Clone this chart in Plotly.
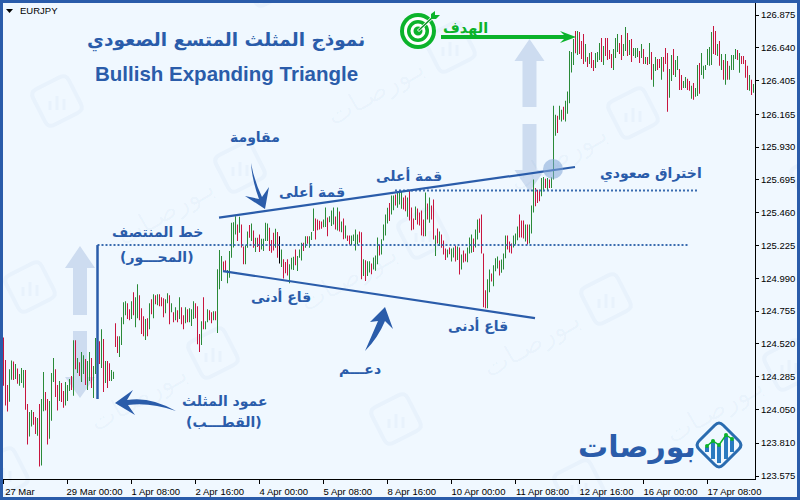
import math
import plotly.graph_objects as go

# EURJPY hourly bars, highest and lowest price of each hour
bar_high = [
    124.566,124.405,124.226,124.340,124.402,124.395,124.376,124.345,124.305,124.348,
    124.333,124.333,124.090,124.033,124.048,124.033,123.998,123.991,124.090,124.126,
    124.319,124.176,124.126,124.112,124.312,124.419,124.340,124.226,124.255,124.240,
    124.183,124.248,124.226,124.269,124.290,124.547,124.547,124.419,124.390,124.462,
    124.440,124.412,124.398,124.462,124.419,124.362,124.562,124.483,124.540,124.626,
    124.555,124.398,124.398,124.383,124.333,124.321,124.669,124.576,124.576,124.712,
    124.819,124.826,124.812,124.769,124.826,124.890,124.855,124.948,124.869,124.776,
    124.719,124.698,124.705,124.812,124.840,124.876,124.869,124.876,124.876,124.855,
    124.848,124.840,124.883,124.869,124.812,124.748,124.783,124.762,124.855,124.783,
    124.726,124.783,124.769,124.776,124.769,124.826,124.812,124.790,124.591,124.683,
    124.855,124.683,124.769,124.762,124.748,124.755,124.755,125.055,125.192,125.149,
    125.111,125.118,125.049,125.185,125.387,125.392,125.435,125.376,125.430,125.376,
    125.218,125.226,125.326,125.371,125.383,125.333,125.280,125.280,125.304,125.273,
    125.273,125.387,125.383,125.352,125.264,125.316,125.345,125.321,125.292,125.197,
    125.126,125.107,125.126,125.090,125.138,125.145,125.197,125.149,125.197,125.245,
    125.245,125.292,125.292,125.292,125.321,125.490,125.418,125.411,125.402,125.397,
    125.411,125.497,125.426,125.435,125.476,125.497,125.433,125.497,125.469,125.397,
    125.419,125.369,125.297,125.297,125.297,125.304,125.340,125.304,125.326,125.319,
    125.126,125.119,125.112,125.112,125.097,125.140,125.154,125.283,125.233,125.269,
    125.376,125.447,125.495,125.530,125.583,125.583,125.590,125.611,125.618,125.611,
    125.568,125.583,125.568,125.618,125.497,125.419,125.504,125.490,125.461,125.476,
    125.411,125.604,125.526,125.568,125.511,125.554,125.297,125.347,125.325,125.304,
    125.261,125.204,125.197,125.211,125.204,125.211,125.225,125.218,125.211,125.161,
    125.190,125.168,125.211,125.282,125.304,125.275,125.340,125.411,125.418,125.447,
    125.168,124.904,124.983,125.054,125.025,125.083,125.133,125.147,125.118,125.125,
    125.168,125.297,125.297,125.254,125.240,125.297,125.311,125.361,125.447,125.404,
    125.404,125.375,125.375,125.375,125.511,125.697,125.637,125.625,125.625,125.709,
    125.716,125.702,125.709,125.697,125.713,126.225,126.161,126.154,126.225,126.196,
    126.218,126.261,126.327,126.618,126.611,126.703,126.760,126.760,126.753,126.689,
    126.739,126.668,126.575,126.603,126.611,126.553,126.603,126.611,126.675,126.710,
    126.653,126.710,126.710,126.625,126.596,126.632,126.710,126.739,126.675,126.732,
    126.668,126.789,126.746,126.696,126.703,126.639,126.639,126.639,126.618,126.668,
    126.632,126.575,126.575,126.675,126.611,126.525,126.575,126.561,126.561,126.575,
    126.575,126.639,126.603,126.489,126.589,126.632,126.553,126.582,126.489,126.446,
    126.403,126.432,126.418,126.403,126.368,126.389,126.353,126.518,126.532,126.603,
    126.511,126.518,126.632,126.646,126.753,126.796,126.760,126.668,126.689,126.596,
    126.553,126.596,126.546,126.511,126.589,126.589,126.632,126.625,126.603,126.582,
    126.582,126.553,126.511,126.446,126.411,126.382,
]
bar_low = [
    124.221,124.079,124.036,124.107,124.264,124.262,124.269,124.236,124.221,124.240,
    124.207,124.050,123.800,123.857,123.929,123.941,123.876,123.864,123.643,123.650,
    124.038,124.043,123.800,123.841,123.971,124.248,124.140,124.043,124.112,124.105,
    124.064,124.079,124.112,124.183,124.190,124.150,124.340,124.312,124.290,124.248,
    124.305,124.226,124.190,124.255,124.205,124.133,124.305,124.221,124.376,124.348,
    124.176,124.240,124.205,124.255,124.255,124.269,124.498,124.455,124.426,124.512,
    124.662,124.726,124.698,124.690,124.698,124.726,124.640,124.705,124.690,124.591,
    124.576,124.548,124.576,124.626,124.733,124.705,124.805,124.798,124.790,124.790,
    124.712,124.740,124.812,124.662,124.748,124.676,124.690,124.676,124.698,124.662,
    124.626,124.669,124.676,124.676,124.648,124.698,124.705,124.519,124.462,124.512,
    124.626,124.626,124.676,124.690,124.669,124.690,124.690,124.598,124.911,124.971,
    125.040,125.042,124.954,124.995,125.138,125.211,125.304,125.257,125.316,125.211,
    125.090,125.090,125.209,125.280,125.257,125.209,125.178,125.214,125.178,125.197,
    125.185,125.257,125.257,125.185,125.173,125.190,125.209,125.138,125.097,125.071,
    124.988,125.026,125.011,124.954,125.054,125.049,125.083,125.042,125.138,125.118,
    125.185,125.209,125.237,125.209,125.264,125.328,125.268,125.335,125.340,125.345,
    125.356,125.357,125.292,125.392,125.364,125.376,125.340,125.333,125.326,125.319,
    125.269,125.276,125.257,125.233,125.226,125.257,125.190,125.233,125.247,124.983,
    125.007,124.971,125.007,125.031,125.019,125.054,125.045,125.090,125.154,125.161,
    125.261,125.297,125.383,125.400,125.447,125.478,125.511,125.495,125.519,125.488,
    125.483,125.471,125.430,125.404,125.335,125.340,125.407,125.376,125.369,125.297,
    125.292,125.292,125.411,125.388,125.411,125.268,125.149,125.240,125.221,125.209,
    125.161,125.121,125.140,125.163,125.111,125.140,125.111,125.121,125.018,125.054,
    125.104,125.111,125.106,125.168,125.173,125.178,125.211,125.268,125.316,125.168,
    124.783,124.776,124.776,124.890,124.968,124.933,125.040,125.061,125.011,125.030,
    125.054,125.133,125.197,125.175,125.168,125.211,125.232,125.263,125.282,125.282,
    125.275,125.254,125.232,125.240,125.311,125.461,125.506,125.530,125.542,125.578,
    125.614,125.637,125.621,125.637,125.637,125.697,126.011,126.030,126.125,126.113,
    126.125,126.113,126.168,126.244,126.463,126.518,126.601,126.589,126.596,126.561,
    126.525,126.541,126.503,126.525,126.496,126.475,126.496,126.539,126.553,126.539,
    126.518,126.582,126.553,126.561,126.496,126.482,126.568,126.611,126.596,126.553,
    126.582,126.618,126.582,126.589,126.539,126.582,126.568,126.575,126.532,126.568,
    126.525,126.525,126.518,126.525,126.411,126.361,126.475,126.482,126.496,126.411,
    126.468,126.525,126.182,126.282,126.403,126.446,126.432,126.482,126.339,126.339,
    126.353,126.353,126.339,126.332,126.275,126.268,126.289,126.296,126.311,126.446,
    126.418,126.482,126.518,126.511,126.518,126.596,126.589,126.582,126.511,126.482,
    126.411,126.375,126.411,126.411,126.482,126.482,126.561,126.553,126.461,126.525,
    126.525,126.425,126.339,126.332,126.303,126.318,
]
# G rising hour, R falling hour, K the doji-coloured bar
bar_dir = (
    "RRRGGRGRGG" "GRRGGRRGRG" "GRRGGGRRGR" "RGGGRGRGRG" "GRGGRGGGRG"
    "RGRRGGRRGG" "GGRRGRGGRR" "RGRGRGRGRR" "RGGRGRGRGR" "RGRGGGRRRG"
    "RGGRRGRGGG" "RRGGGGGRGR" "RGGRGRGRRG" "GGGRRRGRKG" "RRRGGGRGGG"
    "RGRGGGRRRR" "GGRGGGRGRG" "RGRRGGGGRR" "GRGGRGGGRG" "GGGRGGRGGG"
    "RRGRRRGRRR" "RGRGRRGRGR" "RRGRGGRGRG" "RRGGGRGGRR" "RRGGRGGGRG"
    "GGRRRGGGRR" "RGRGGGRRRG" "GRGRGGGRGG" "RGGGGGRGRR" "RGRGRRGGGR"
    "GRRRRGGGRR" "GGRGRGGGRG" "RGRGRGGRRG" "RRRGGRGGRR" "GGRRGRGGRG"
    "GGGGGRRGRG" "RGRGGGGRGR" "RRRGRG"
)
bar_index = list(range(len(bar_high)))

# Axis labelling
time_positions = [0, 32, 64, 96, 128, 160, 192, 224, 256, 288, 320, 352]
time_labels = ["27 Mar", "29 Mar 00:00", "1 Apr 08:00", "2 Apr 16:00", "4 Apr 00:00",
               "5 Apr 08:00", "8 Apr 16:00", "10 Apr 00:00", "11 Apr 08:00",
               "12 Apr 16:00", "16 Apr 00:00", "17 Apr 08:00"]
price_ticks = [126.875, 126.640, 126.405, 126.165, 125.930, 125.695, 125.460, 125.225,
               124.990, 124.755, 124.520, 124.285, 124.050, 123.810, 123.575]

# Pattern lines, in bar number and price
resistance_x, resistance_y = [107.75, 285.75], [125.425, 125.787]
support_x, support_y = [109.75, 265.75], [125.042, 124.705]
pole_x, pole_y = [47, 47], [125.228, 124.126]
midline_x, midline_y = [47, 342.25], [125.228, 125.228]
breakout_x, breakout_y = [195.75, 347.25], [125.618, 125.618]

BLUE = "#2a5caa"
GREEN = "#0bb32b"
BG = "#f0f8ff"
ARROW_PALE = "#cddcf0"
WATERMARK = "rgba(42,92,170,0.035)"
BAR_COLORS = {"G": "#2a8a38", "R": "#c8163f", "K": "#000000"}
AR_FONT = "DejaVu Sans"
TICK_FONT = "Liberation Sans"
W, H = 800, 500


def fx(px):
    return px / W


def fy(py):
    return 1 - py / H


def path(*parts):
    """Build an SVG path from pixel-space commands like ('M', x, y) for the paper layer."""
    out = []
    for part in parts:
        cmd, coords = part[0], part[1:]
        pairs = [f"{fx(coords[i]):.5f},{fy(coords[i + 1]):.5f}" for i in range(0, len(coords), 2)]
        out.append(cmd + " ".join(pairs))
    return " ".join(out)


def polygon(points):
    parts = [("M", *points[0])] + [("L", *p) for p in points[1:]]
    return path(*parts) + " Z"


def rounded_square(cx, cy, half, angle_deg, radius):
    """Square rotated about its centre, with corners softened by quadratic curves."""
    a = math.radians(angle_deg)
    corners = []
    for sx, sy in [(-1, -1), (1, -1), (1, 1), (-1, 1)]:
        x, y = sx * half, sy * half
        corners.append((cx + x * math.cos(a) - y * math.sin(a), cy + x * math.sin(a) + y * math.cos(a)))
    parts = []
    for i, c in enumerate(corners):
        prev, nxt = corners[i - 1], corners[(i + 1) % 4]
        side = 2 * half
        p1 = (c[0] + (prev[0] - c[0]) * radius / side, c[1] + (prev[1] - c[1]) * radius / side)
        p2 = (c[0] + (nxt[0] - c[0]) * radius / side, c[1] + (nxt[1] - c[1]) * radius / side)
        parts.append(("M" if i == 0 else "L", *p1))
        parts.append(("Q", *c, *p2))
    return path(*parts) + " Z"


shapes, notes = [], []


def add_path(d, fill=None, line=None, width=0, layer="above"):
    shapes.append(dict(type="path", path=d, xref="paper", yref="paper", layer=layer,
                       fillcolor=fill or "rgba(0,0,0,0)",
                       line=dict(color=line or "rgba(0,0,0,0)", width=width)))


def add_circle(cx, cy, r, fill, layer="above"):
    shapes.append(dict(type="circle", xref="paper", yref="paper", layer=layer,
                       x0=fx(cx - r), x1=fx(cx + r), y0=fy(cy + r), y1=fy(cy - r),
                       fillcolor=fill, line=dict(width=0)))


def add_text(px, py, text, size, color=BLUE, family=AR_FONT, weight="bold", angle=0, anchor="center"):
    notes.append(dict(x=fx(px), y=fy(py), xref="paper", yref="paper", text=text, showarrow=False,
                      xanchor=anchor, yanchor="middle", textangle=angle,
                      font=dict(family=family, size=size, color=color, weight=weight)))


# Repeating brand watermark across the chart
for m in range(-3, 5):
    for n in range(-3, 5):
        ix = 30 + m * 210 + n * 183
        iy = 287 - m * 120 + n * 66
        if -40 < ix < 880 and -40 < iy < 560:
            add_path(rounded_square(ix, iy, 20, -27, 7), line=WATERMARK, width=4, layer="below")
            for dx, dh in [(-7, 9), (0, 14), (7, 11)]:
                add_path(polygon([(ix + dx - 1.5, iy + 9), (ix + dx + 1.5, iy + 9),
                                  (ix + dx + 1.5, iy + 9 - dh), (ix + dx - 1.5, iy + 9 - dh)]),
                         fill=WATERMARK, layer="below")
            # Only whole words: a rotated label must stay inside the page
            if 70 < ix - 75 < 730 and 45 < iy + 45 < 445:
                add_text(ix - 75, iy + 45, "بـورصـات", 27, color=WATERMARK, angle=-30, weight="normal")

# Pale direction arrows showing the pole height and the projected move
for cx, top, neck, shaft_end, low_top, low_neck, tip in [(80, 246, 268, 315, 331, 377, 398),
                                                         (529.5, 39, 61, 107, 124, 170, 192)]:
    add_path(polygon([(cx, top), (cx + 15, neck), (cx + 7, neck), (cx + 7, shaft_end),
                      (cx - 7, shaft_end), (cx - 7, neck), (cx - 15, neck)]), fill=ARROW_PALE, layer="below")
    add_path(polygon([(cx - 7, low_top), (cx + 7, low_top), (cx + 7, low_neck), (cx + 15, low_neck),
                      (cx, tip), (cx - 15, low_neck), (cx - 7, low_neck)]), fill=ARROW_PALE, layer="below")
add_circle(553, 169, 10, "rgba(130,165,215,0.55)")

# Curved callout arrows
add_path(path(("M", 251, 163), ("Q", 252, 180, 259, 199), ("L", 245, 196), ("L", 265, 209),
              ("L", 269, 187), ("L", 262, 197), ("Q", 254, 180, 251, 163)) + " Z", fill=BLUE)
add_path(path(("M", 365, 351), ("Q", 372, 335, 378, 321), ("L", 370, 322), ("L", 385, 307),
              ("L", 393, 329), ("L", 385, 321), ("Q", 378, 338, 365, 351)) + " Z", fill=BLUE)
add_path(path(("M", 176, 411), ("Q", 150, 396, 127, 400), ("L", 133, 390), ("L", 115, 403),
              ("L", 135, 415), ("L", 128, 405), ("Q", 150, 402, 176, 411)) + " Z", fill=BLUE)

# Target badge and its arrow
for r, color in [(18, GREEN), (14, "#ffffff"), (11, GREEN), (7.5, "#ffffff"), (4.5, GREEN)]:
    add_circle(418, 31, r, color)
add_path(polygon([(417, 30), (432, 16), (434, 18), (419, 32)]), fill="#ffffff")
add_path(polygon([(418, 30), (433, 16), (434, 17), (419, 31)]), fill="#0a8f24")
add_path(polygon([(431, 19), (431, 14), (435, 11), (435, 15), (440, 15), (436, 19)]), fill=GREEN)
add_path(polygon([(441, 35), (564, 35), (560, 31), (576, 37), (560, 43), (564, 39), (441, 39)]), fill=GREEN)

# Brand mark, bottom right
add_path(rounded_square(719, 445, 17, 45, 6), fill=BG, line="#2a6cb0", width=3)
for bx, top, bottom in [(707, 447, 452), (713, 442, 459), (719, 446, 463), (726, 436, 459), (732, 440, 452)]:
    add_path(polygon([(bx - 2, top), (bx + 2, top), (bx + 2, bottom), (bx - 2, bottom)]), fill="#2a7ac0")
brand_dots = [(707, 446), (713, 441), (719, 445), (726, 435), (732, 439)]
add_path(path(("M", *brand_dots[0]), *[("L", *p) for p in brand_dots[1:]]), line=GREEN, width=1.5)
for dot in brand_dots:
    add_circle(dot[0], dot[1], 2, GREEN)

# Small symbol marker and the surrounding frame
add_path(polygon([(6, 9), (13, 9), (9.5, 13)]), fill="#000000")
for rect in [(0, 0, 800, 3), (0, 0, 3, 500), (797, 0, 800, 500), (0, 497, 800, 500)]:
    shapes.append(dict(type="rect", xref="paper", yref="paper", layer="above",
                       x0=fx(rect[0]), x1=fx(rect[2]), y0=fy(rect[3]), y1=fy(rect[1]),
                       fillcolor=BLUE, line=dict(width=0)))

# Chart text
add_text(18, 10.5, "EURJPY", 9.5, color="#000000", family=TICK_FONT, anchor="left", weight="normal")
add_text(226, 41, "نموذج المثلث المتسع الصعودي", 18.5)
add_text(226.5, 73, "Bullish Expanding Triangle", 20.5, family="Liberation Sans")
add_text(465, 28, "الهدف", 14.5, color=GREEN)
add_text(255, 137, "مقاومة", 14)
add_text(312, 191, "قمة أعلى", 14)
add_text(409, 175, "قمة أعلى", 14)
add_text(651, 174, "اختراق صعودي", 14)
add_text(157, 232, "خط المنتصف", 14)
add_text(157, 257, "(المحـــور)", 14)
add_text(281, 296, "قاع أدنى", 14)
add_text(478, 325, "قاع أدنى", 14)
add_text(360, 369, "دعـــم", 14)
add_text(224, 401, "عمود المثلث", 14)
add_text(224, 422, "(القطـــب)", 14)
add_text(637, 446, "بورصات", 30)

fig = go.Figure()
fig.add_trace(go.Bar(
    x=bar_index,
    base=bar_low,
    y=[hi - lo for hi, lo in zip(bar_high, bar_low)],
    width=0.5,
    marker=dict(color=[BAR_COLORS[d] for d in bar_dir], line=dict(width=0)),
    hoverinfo="skip",
))
line_style = dict(color=BLUE, width=2.2)
dot_style = dict(color="#3a6cb0", width=2, dash="2px,2px")
for xs, ys, style in [(midline_x, midline_y, dot_style), (breakout_x, breakout_y, dot_style),
                      (resistance_x, resistance_y, line_style), (support_x, support_y, line_style),
                      (pole_x, pole_y, dict(color=BLUE, width=2.5))]:
    fig.add_trace(go.Scatter(x=xs, y=ys, mode="lines", line=style, hoverinfo="skip"))

# Pad narrower labels so every time label starts at its own tick
padded_labels = [time_labels[0] + "\u00a0" * 8] + [
    t + "\u00a0" * (2 if len(t) == 11 else 0) for t in time_labels[1:]
]

fig.update_layout(
    width=W, height=H,
    margin=dict(l=0, r=0, t=0, b=0, autoexpand=False),
    paper_bgcolor=BG, plot_bgcolor="rgba(0,0,0,0)",
    showlegend=False, barmode="overlay",
    shapes=shapes, annotations=notes,
    xaxis=dict(
        domain=[3 / W, 755 / W], range=[-0.25, 375.75],
        tickmode="array", tickvals=time_positions, ticktext=padded_labels,
        ticks="outside", ticklen=4, tickwidth=1, tickcolor="#000000",
        showgrid=False, zeroline=False, showline=True, linecolor="#000000", linewidth=1,
        ticklabelshift=27, tickangle=0,
        tickfont=dict(family=TICK_FONT, size=9.5, color="#000000"),
    ),
    yaxis=dict(
        domain=[1 - 479 / H, 1 - 3 / H], range=[123.5535, 126.961], side="right",
        tickmode="array", tickvals=price_ticks, ticktext=[f"{v:.3f}" for v in price_ticks],
        ticks="outside", ticklen=3, tickwidth=1, tickcolor="#000000",
        showgrid=False, zeroline=False, showline=True, linecolor="#000000", linewidth=1,
        tickfont=dict(family=TICK_FONT, size=9.5, color="#000000"),
    ),
)

fig.write_html("out.html")
